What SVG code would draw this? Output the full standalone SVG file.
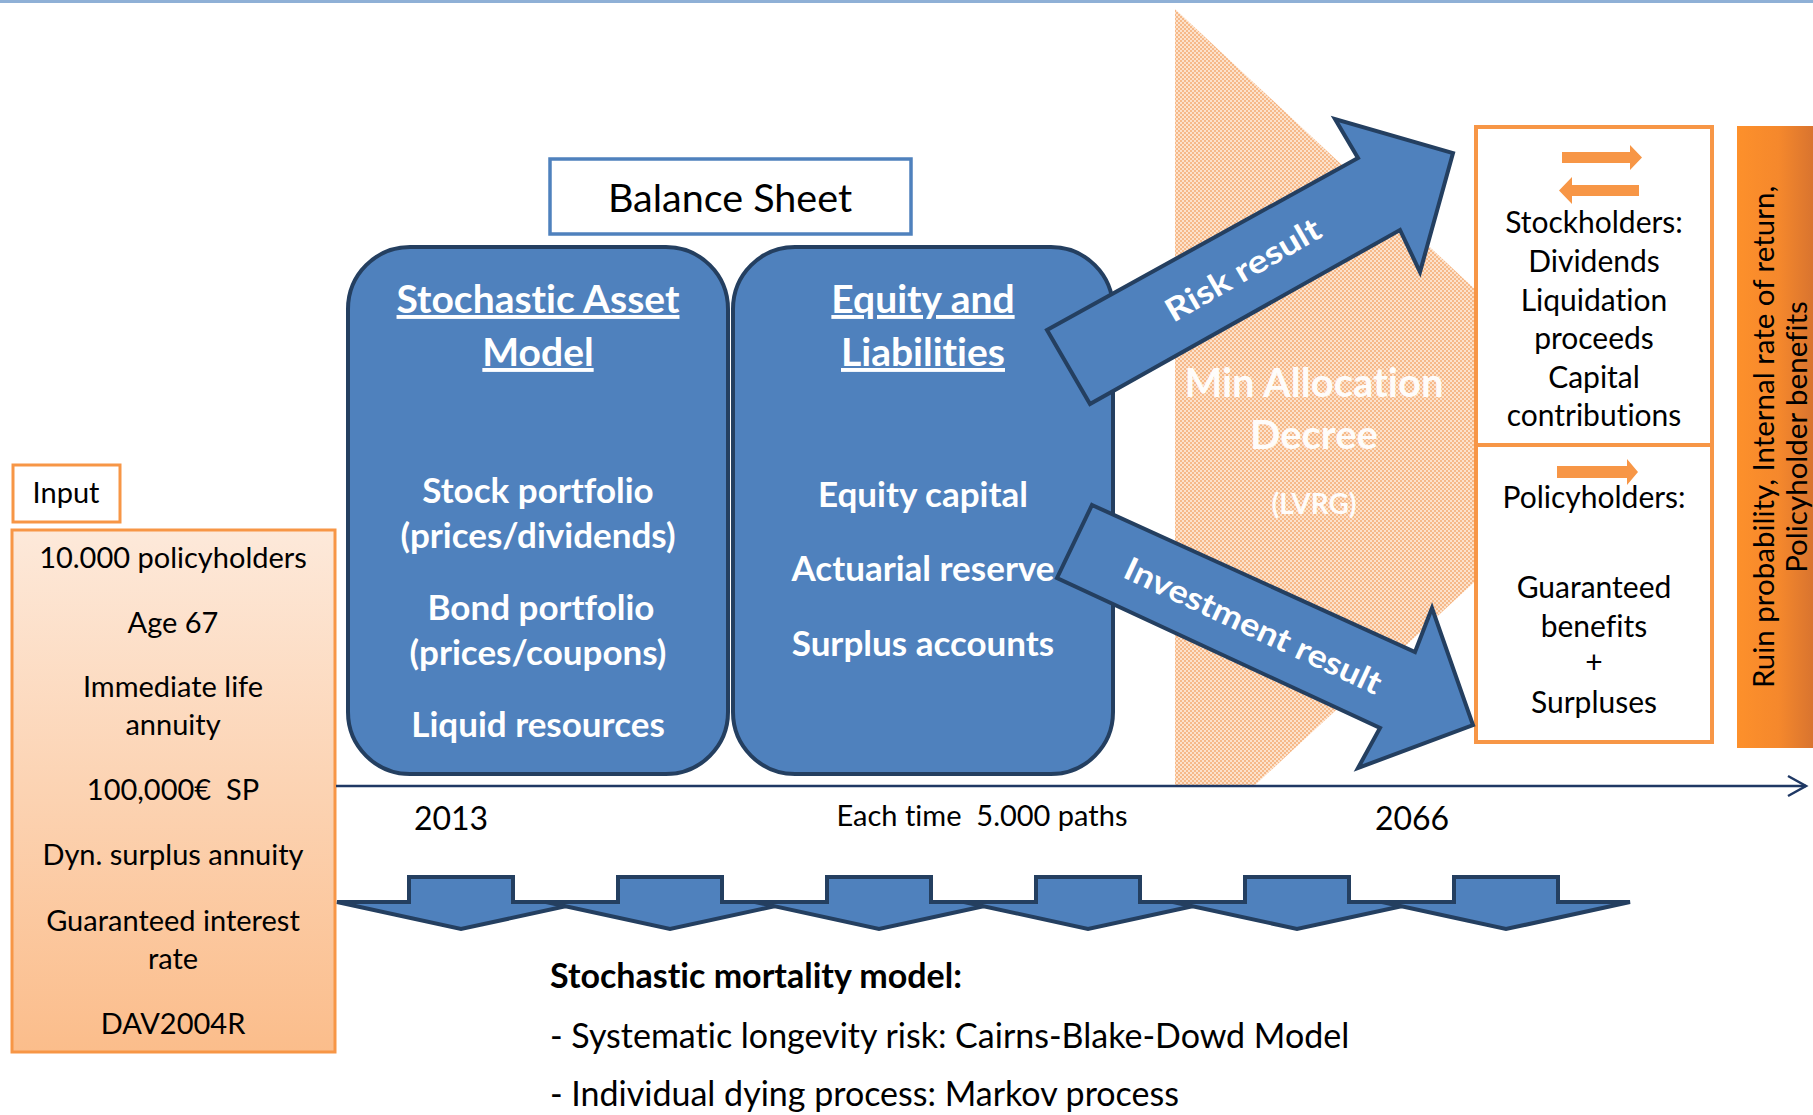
<svg xmlns="http://www.w3.org/2000/svg" width="1813" height="1115" viewBox="0 0 1813 1115">
  <defs>
    <!-- fine dotted fill for the allocation-decree chevron -->
    <pattern id="dots" width="4" height="4" patternUnits="userSpaceOnUse">
      <rect width="4" height="4" fill="#fce2cc"/>
      <rect width="2" height="2" fill="#f6b989"/>
      <rect x="2" y="2" width="2" height="2" fill="#f6b989"/>
    </pattern>
    <linearGradient id="inputFill" x1="0" y1="0" x2="0" y2="1">
      <stop offset="0" stop-color="#fde9da"/>
      <stop offset="1" stop-color="#fbbd8b"/>
    </linearGradient>
    <linearGradient id="barFill" x1="0" y1="0" x2="1" y2="0">
      <stop offset="0" stop-color="#fd902b"/>
      <stop offset="0.55" stop-color="#f5882c"/>
      <stop offset="1" stop-color="#d9742f"/>
    </linearGradient>
    <marker id="openHead" markerUnits="userSpaceOnUse" markerWidth="24" markerHeight="26" refX="20" refY="12" orient="auto">
      <path d="M2,2 L20,12 L2,22" fill="none" stroke="#1f3864" stroke-width="2.5"/>
    </marker>
    <!-- one flat block arrow of the mortality row, tip at x=0 -->
    <path id="downArrow" d="M-52,877 H52 V902 H124 L0,929 L-124,902 H-52 Z"/>
  </defs>
  <style>
    text { font-variant-ligatures: none; }
    .t { font-family: Lato, "Open Sans", "Liberation Sans", sans-serif; fill: #000; }
    .b { font-family: Lato, "Open Sans", "Liberation Sans", sans-serif; font-weight: 700; }
    .w { fill: #fff; }
    .mid { text-anchor: middle; }
    .blue { fill: #4f81bd; stroke: #243f60; stroke-width: 4; stroke-linejoin: miter; }
    .obox { fill: #fff; stroke: #f79646; stroke-width: 4; }
    .oarrow { fill: #f79646; }
    .ul { text-decoration: underline; }
  </style>

  <rect width="1813" height="1115" fill="#fff"/>
  <line x1="0" y1="1.5" x2="1813" y2="1.5" stroke="#8fb0d6" stroke-width="3"/>

  <!-- allocation decree chevron (behind everything else) -->
  <g id="min-allocation">
    <polygon points="1175,9 1632,436 1254,786 1175,786" fill="url(#dots)"/>
    <g class="b w mid" opacity="0.95">
      <text x="1314" y="397" font-size="40">Min Allocation</text>
      <text x="1314" y="449" font-size="40">Decree</text>
      <text x="1314" y="514" font-size="28">(LVRG)</text>
    </g>
  </g>

  <g id="balance-sheet">
    <rect x="550" y="159" width="361" height="75" fill="#fff" stroke="#4f81bd" stroke-width="3.5"/>
    <text class="t mid" x="730" y="212" font-size="39.5">Balance Sheet</text>
  </g>

  <g id="asset-model">
    <rect class="blue" x="348" y="247" width="380" height="527" rx="62" ry="62"/>
    <g class="b w mid">
      <text class="ul" x="538" y="313" font-size="39">Stochastic Asset</text>
      <text class="ul" x="538" y="366" font-size="39">Model</text>
      <text x="538" y="503" font-size="35">Stock portfolio</text>
      <text x="538" y="548" font-size="35">(prices/dividends)</text>
      <text x="541" y="620" font-size="35">Bond portfolio</text>
      <text x="538" y="665" font-size="35">(prices/coupons)</text>
      <text x="538" y="737" font-size="35">Liquid resources</text>
    </g>
  </g>

  <g id="equity-liabilities">
    <rect class="blue" x="733" y="247" width="380" height="527" rx="62" ry="62"/>
    <g class="b w mid">
      <text class="ul" x="923" y="313" font-size="39">Equity and</text>
      <text class="ul" x="923" y="366" font-size="39">Liabilities</text>
      <text x="923" y="507" font-size="35">Equity capital</text>
      <text x="923" y="581" font-size="35">Actuarial reserve</text>
      <text x="923" y="656" font-size="35">Surplus accounts</text>
    </g>
  </g>

  <g id="input-label">
    <rect x="13" y="465" width="107" height="57" fill="#fff" stroke="#f79646" stroke-width="3"/>
    <text class="t mid" x="66" y="503" font-size="29">Input</text>
  </g>

  <g id="input-list">
    <rect x="12" y="530" width="323" height="522" fill="url(#inputFill)" stroke="#f79646" stroke-width="3"/>
    <g class="t mid" font-size="29">
      <text x="173" y="568">10.000 policyholders</text>
      <text x="173" y="633">Age 67</text>
      <text x="173" y="697">Immediate life</text>
      <text x="173" y="735">annuity</text>
      <text x="173" y="800" xml:space="preserve">100,000€  SP</text>
      <text x="173" y="865">Dyn. surplus annuity</text>
      <text x="173" y="931">Guaranteed interest</text>
      <text x="173" y="969">rate</text>
      <text x="173" y="1034">DAV2004R</text>
    </g>
  </g>

  <g id="stockholders">
    <rect class="obox" x="1476" y="127" width="236" height="318"/>
    <path class="oarrow" d="M1562,152 H1630 V145 L1642,157.5 L1630,170 V163 H1562 Z"/>
    <path class="oarrow" d="M1639,185 H1572 V177 L1559,190.5 L1572,204 V196 H1639 Z"/>
    <g class="t mid" font-size="30">
      <text x="1594" y="233">Stockholders:</text>
      <text x="1594" y="272">Dividends</text>
      <text x="1594" y="311">Liquidation</text>
      <text x="1594" y="349">proceeds</text>
      <text x="1594" y="388">Capital</text>
      <text x="1594" y="426">contributions</text>
    </g>
  </g>

  <g id="policyholders">
    <rect class="obox" x="1476" y="445" width="236" height="297"/>
    <path class="oarrow" d="M1557,466 H1627 V459 L1638,472 L1627,485 V478 H1557 Z"/>
    <g class="t mid" font-size="30">
      <text x="1594" y="508">Policyholders:</text>
      <text x="1594" y="598">Guaranteed</text>
      <text x="1594" y="637">benefits</text>
      <text x="1594" y="673">+</text>
      <text x="1594" y="713">Surpluses</text>
    </g>
  </g>

  <g id="result-measures">
    <rect x="1737" y="126" width="76" height="622" fill="url(#barFill)"/>
    <g class="t mid" font-size="29.5" transform="translate(1774,437) rotate(-90)">
      <text x="0" y="0">Ruin probability, Internal rate of return,</text>
      <text x="0" y="33">Policyholder benefits</text>
    </g>
  </g>

  <g id="timeline">
    <line x1="336" y1="786" x2="1806" y2="786" stroke="#1f3864" stroke-width="2.5" marker-end="url(#openHead)"/>
    <text class="t mid" x="451" y="830" font-size="32">2013</text>
    <text class="t mid" x="982" y="826" font-size="29" xml:space="preserve">Each time  5.000 paths</text>
    <text class="t mid" x="1412" y="830" font-size="32">2066</text>
  </g>

  <g id="connectors">
    <g id="risk-result">
      <polygon class="blue" points="1047,330 1358,158 1335,119 1453,153 1420,272 1400,230 1090,404"/>
      <text class="b w mid" font-size="32" transform="translate(1243,270) rotate(-30)" y="11" textLength="174" lengthAdjust="spacingAndGlyphs">Risk result</text>
    </g>
    <g id="investment-result">
      <polygon class="blue" points="1092,505 1415,652 1432,608 1473,725 1358,768 1380,728 1057,578"/>
      <text class="b w mid" font-size="32" transform="translate(1253,626) rotate(25)" y="11" textLength="280" lengthAdjust="spacingAndGlyphs">Investment result</text>
    </g>
    <g id="mortality-arrows" class="blue">
      <use href="#downArrow" x="461"/>
      <use href="#downArrow" x="670"/>
      <use href="#downArrow" x="879"/>
      <use href="#downArrow" x="1088"/>
      <use href="#downArrow" x="1297"/>
      <use href="#downArrow" x="1506"/>
    </g>
  </g>

  <g id="mortality-model" class="t" font-size="34">
    <text class="b" x="550" y="988" font-size="34">Stochastic mortality model:</text>
    <text x="550" y="1048">- Systematic longevity risk: Cairns-Blake-Dowd Model</text>
    <text x="550" y="1106">- Individual dying process: Markov process</text>
  </g>
</svg>
